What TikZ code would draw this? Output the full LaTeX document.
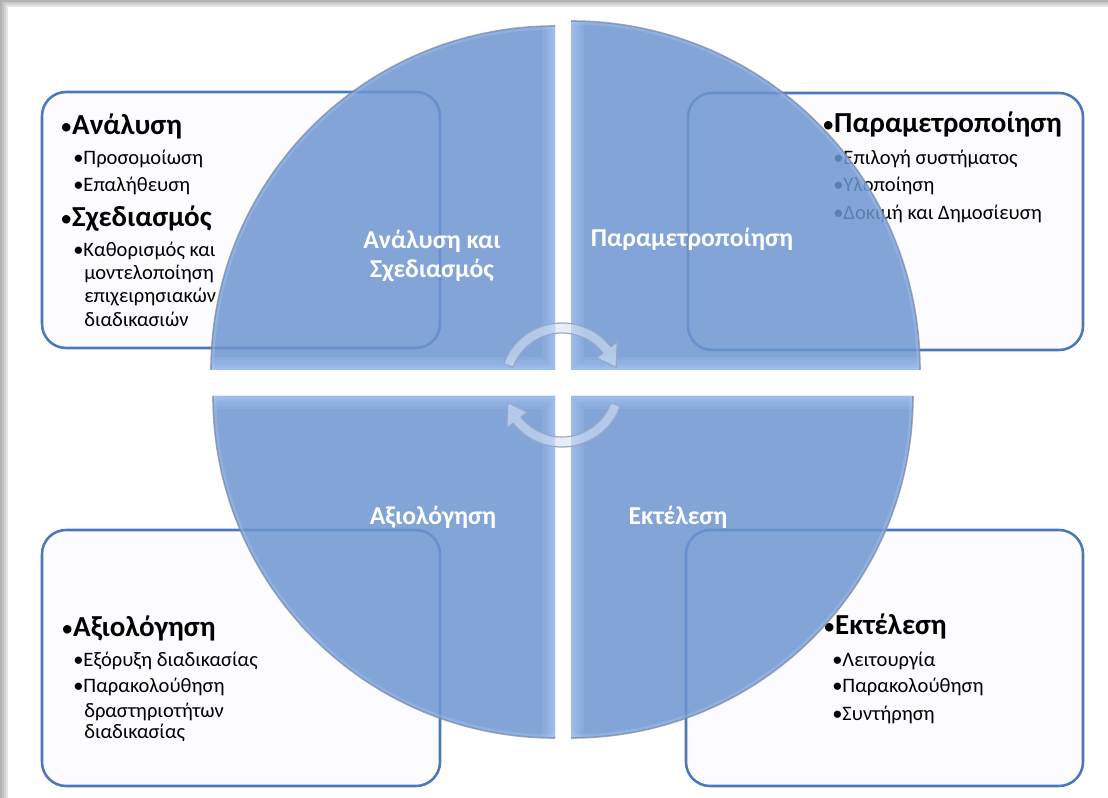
\documentclass[tikz,border=0pt]{standalone}
\usepackage{fontspec}
\setmainfont{Carlito}
\usetikzlibrary{calc}

\definecolor{quadblue}{RGB}{110,149,209}
\definecolor{bevel}{RGB}{184,212,255}
\definecolor{rim}{RGB}{120,136,165}
\definecolor{boxblue}{RGB}{74,120,186}
\definecolor{boxfill}{RGB}{252,252,255}
\definecolor{arrowfill}{RGB}{214,226,246}
\definecolor{arrowline}{RGB}{150,168,198}

\tikzset{
  infobox/.style={draw=boxblue, line width=1.9pt, fill=boxfill, rounded corners=18pt, inner sep=0pt},
  headline/.style={anchor=base west, inner sep=0pt, font=\fontsize{21.75}{26}\selectfont\bfseries},
  itemline/.style={anchor=base west, inner sep=0pt, font=\fontsize{15.4}{18}\selectfont},
  quadfill/.style={fill=quadblue, fill opacity=0.85},
  bevelstep/.style={draw=bevel, line width=#1, draw opacity=0.13},
  arcglow/.style={draw=bevel, line width=5pt, draw opacity=0.25},
  rimshadow/.style={draw=rim, line width=1.2pt, draw opacity=0.7},
  quadlabel/.style={text=white, align=center, inner sep=0pt, font=\fontsize{19.3}{22}\selectfont\bfseries},
  cyclearrow/.style={fill=arrowfill, fill opacity=0.6, draw=arrowline, line width=0.9pt, line join=round},
}

% smaller bullet for the bold headings
\newcommand\hdot{{\mdseries\fontsize{18}{20}\selectfont •}}

% one quarter of the disc: centre (#1,#2), start angle #3, radius #4
\newcommand\drawquad[4]{%
  \fill[quadfill] (#1,#2) -- ++(#3:#4) arc[start angle=#3, delta angle=90, radius=#4] -- cycle;
  \begin{scope}
    \clip (#1,#2) -- ++(#3:#4) arc[start angle=#3, delta angle=90, radius=#4] -- cycle;
    \draw[arcglow] (#1,#2) ++(#3:#4) arc[start angle=#3, delta angle=90, radius=#4];
    \foreach \w in {20pt,15pt,11pt,8pt,5pt,3pt}
      \draw[bevelstep=\w] (#1,#2) ++(#3:#4) -- (#1,#2) -- ++(#3+90:#4);
  \end{scope}
  \draw[rimshadow] (#1,#2) ++(#3:#4) arc[start angle=#3, delta angle=90, radius=#4];
}

\begin{document}
\begin{tikzpicture}[x=0.75pt, y=-0.75pt]
\useasboundingbox (0,0) rectangle (1108,798);

% page with a soft shadow along the top and left edges
\fill[black!30] (0,0) rectangle (1108,798);
\fill[black!24] (2,2) rectangle (1108,798);
\fill[black!18] (4,3.5) rectangle (1108,798);
\fill[black!10] (6,5) rectangle (1108,798);
\fill[white] (8,7) rectangle (1108,798);

% the four text panels
\node[infobox, minimum width=298.5pt, minimum height=192pt] (tlbox) at (241,220) {};
\node[infobox, minimum width=296.25pt, minimum height=192.75pt] (trbox) at (885.5,221.5) {};
\node[infobox, minimum width=298.5pt, minimum height=192pt] (blbox) at (241,658) {};
\node[infobox, minimum width=297.75pt, minimum height=192pt] (brbox) at (884.5,658) {};

% panel: analysis and design
\node[headline] (tlh1) at (60,135) {\hdot Ανάλυση};
\node[itemline] (tli1) at (73,165) {•Προσομοίωση};
\node[itemline] (tli2) at (73,192) {•Επαλήθευση};
\node[headline] (tlh2) at (60,227) {\hdot Σχεδιασμός};
\node[itemline] (tli3) at (73,257) {•Καθορισμός και};
\node[itemline] (tli3b) at (84,280) {μοντελοποίηση};
\node[itemline] (tli3c) at (84,303) {επιχειρησιακών};
\node[itemline] (tli3d) at (84,327) {διαδικασιών};

% panel: configuration
\node[headline] (trh1) at (822,133) {\hdot Παραμετροποίηση};
\node[itemline] (tri1) at (833,165) {•Επιλογή συστήματος};
\node[itemline] (tri2) at (833,192) {•Υλοποίηση};
\node[itemline] (tri3) at (833,220) {•Δοκιμή και Δημοσίευση};

% panel: evaluation
\node[headline] (blh1) at (61,637) {\hdot Αξιολόγηση};
\node[itemline] (bli1) at (73,667) {•Εξόρυξη διαδικασίας};
\node[itemline] (bli2) at (73,693) {•Παρακολούθηση};
\node[itemline] (bli2b) at (84,717) {δραστηριοτήτων};
\node[itemline] (bli2c) at (84,739) {διαδικασίας};

% panel: execution
\node[headline] (brh1) at (823,635) {\hdot Εκτέλεση};
\node[itemline] (bri1) at (832,667) {•Λειτουργία};
\node[itemline] (bri2) at (832,693) {•Παρακολούθηση};
\node[itemline] (bri3) at (832,720) {•Συντήρηση};

% the split disc
\drawquad{555}{370}{180}{344}
\drawquad{571}{370}{270}{349}
\drawquad{571}{396}{0}{342}
\drawquad{555}{396}{90}{342}

% phase names on the disc
\node[quadlabel] (lblAnalysis) at (432,256) {Ανάλυση και\\Σχεδιασμός};
\node[quadlabel, anchor=base] (lblConfig) at (692,247) {Παραμετροποίηση};
\node[quadlabel, anchor=base] (lblEval) at (433,525) {Αξιολόγηση};
\node[quadlabel, anchor=base] (lblExec) at (678,525) {Εκτέλεση};

% circular arrows in the middle
\coordinate (cyc) at (562,385);
\filldraw[cyclearrow]
  ($(cyc)+(200:62)$) arc[start angle=200, end angle=322, radius=62]
  -- ($(cyc)+(322:70)$) -- ($(cyc)+(342:57)$) -- ($(cyc)+(322:44)$)
  -- ($(cyc)+(322:52)$) arc[start angle=322, end angle=200, radius=52] -- cycle;
\filldraw[cyclearrow]
  ($(cyc)+(20:62)$) arc[start angle=20, end angle=142, radius=62]
  -- ($(cyc)+(142:70)$) -- ($(cyc)+(162:57)$) -- ($(cyc)+(142:44)$)
  -- ($(cyc)+(142:52)$) arc[start angle=142, end angle=20, radius=52] -- cycle;
\end{tikzpicture}
\end{document}
